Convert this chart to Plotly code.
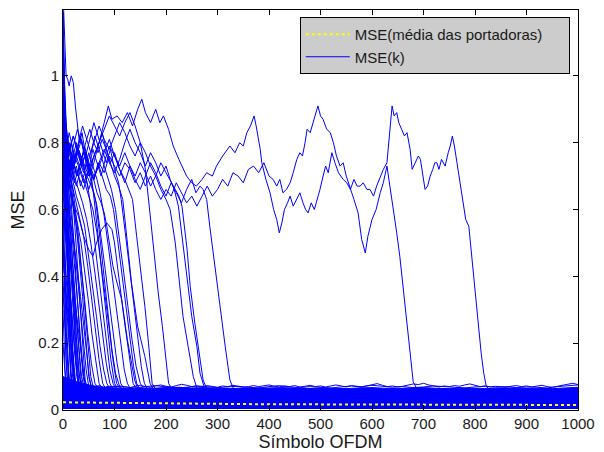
import plotly.graph_objects as go

# ---------------- data ----------------
# two carriers that converge late
carrier_a_x = [0, 5, 10, 20, 30, 40, 50, 60, 70, 80, 90, 100, 110, 120, 130, 140, 150, 160, 170, 180, 190, 200,
               210, 220, 230, 240, 250, 260, 270, 280, 290, 300, 310, 320, 330, 340, 350, 360, 370, 380, 390, 400,
               408, 415, 421, 427, 434, 441, 447, 454, 460, 465, 470, 474, 480, 486, 490, 495, 500, 505, 512, 519,
               525, 531, 538, 544, 550, 557, 565, 573, 580, 587, 592, 600, 608, 616, 622, 629, 635, 642, 648, 654,
               659, 665, 670, 675, 680, 688]
carrier_a_y = [0.90, 0.76, 0.70, 0.74, 0.70, 0.66, 0.72, 0.69, 0.74, 0.71, 0.76, 0.73, 0.70, 0.74, 0.72, 0.68,
               0.71, 0.67, 0.70, 0.66, 0.63, 0.66, 0.64, 0.68, 0.65, 0.62, 0.64, 0.61, 0.64, 0.67, 0.64, 0.66,
               0.69, 0.67, 0.71, 0.70, 0.68, 0.72, 0.73, 0.71, 0.74, 0.70, 0.69, 0.67, 0.69, 0.65, 0.66, 0.68,
               0.71, 0.75, 0.77, 0.76, 0.80, 0.84, 0.83, 0.86, 0.88, 0.91, 0.88, 0.87, 0.84, 0.83, 0.80, 0.76,
               0.73, 0.74, 0.70, 0.67, 0.63, 0.59, 0.51, 0.47, 0.52, 0.57, 0.60, 0.65, 0.68, 0.73, 0.67, 0.60,
               0.53, 0.46, 0.39, 0.30, 0.22, 0.15, 0.085, 0.06]

carrier_b_x = [0, 5, 10, 20, 30, 40, 50, 60, 70, 80, 88, 95, 105, 115, 125, 135, 145, 153, 160, 170, 180, 188,
               195, 205, 214, 225, 240, 250, 259, 270, 279, 290, 298, 310, 324, 334, 343, 350, 357, 364, 371, 375,
               379, 383, 386, 394, 402, 409, 415, 420, 425, 430, 436, 441, 447, 453, 460, 466, 471, 476, 482, 488,
               494, 499, 505, 510, 515, 522, 528, 535, 544, 551, 558, 565, 571, 577, 583, 590, 596, 603, 609, 616,
               622, 629, 633, 636, 639, 643, 648, 652, 658, 663, 668, 674, 678, 684, 690, 694, 699, 703, 708, 713,
               718, 722, 726, 730, 735, 742, 748, 752, 756, 760, 765, 772, 777, 782, 788, 794, 800, 806, 812, 817,
               822, 830]
carrier_b_y = [1.00, 0.85, 0.78, 0.72, 0.78, 0.74, 0.70, 0.76, 0.80, 0.86, 0.91, 0.87, 0.88, 0.86, 0.89, 0.85,
               0.90, 0.93, 0.89, 0.86, 0.90, 0.86, 0.88, 0.84, 0.79, 0.75, 0.70, 0.68, 0.67, 0.69, 0.71, 0.70,
               0.73, 0.76, 0.79, 0.77, 0.80, 0.79, 0.83, 0.85, 0.88, 0.85, 0.82, 0.78, 0.74, 0.69, 0.65, 0.60,
               0.57, 0.53, 0.56, 0.60, 0.62, 0.64, 0.61, 0.63, 0.65, 0.62, 0.60, 0.59, 0.62, 0.60, 0.63, 0.66,
               0.70, 0.73, 0.71, 0.77, 0.74, 0.71, 0.69, 0.68, 0.66, 0.69, 0.67, 0.67, 0.68, 0.66, 0.66, 0.64,
               0.67, 0.70, 0.72, 0.74, 0.80, 0.86, 0.91, 0.88, 0.89, 0.86, 0.84, 0.82, 0.83, 0.78, 0.72, 0.74,
               0.76, 0.75, 0.70, 0.66, 0.67, 0.70, 0.72, 0.74, 0.74, 0.72, 0.75, 0.73, 0.77, 0.79, 0.82, 0.79,
               0.74, 0.67, 0.62, 0.57, 0.55, 0.45, 0.36, 0.26, 0.17, 0.11, 0.07, 0.06]

# carriers converging between symbol ~40 and ~330
mid_x = [
    [0, 6, 12, 20, 28, 36, 44, 52, 60, 68, 76, 84, 92, 100, 110, 120, 130, 140, 150, 160, 170, 180, 190, 200, 210,
     220, 230, 240, 250, 258, 266, 272, 279, 285, 295, 305, 315, 324, 332],
    [0, 5, 12, 20, 30, 40, 50, 60, 70, 80, 90, 100, 110, 120, 130, 140, 150, 160, 170, 180, 190, 200, 210, 218,
     225, 231, 241, 247, 256, 266, 272, 280],
    [0, 6, 14, 22, 30, 40, 50, 60, 70, 80, 90, 100, 110, 120, 130, 140, 150, 160, 170, 180, 190, 200, 208, 216,
     224, 233, 243, 250, 260, 266, 274],
    [0, 5, 10, 18, 26, 34, 42, 50, 60, 70, 80, 90, 100, 110, 120, 130, 140, 150, 160, 170, 180, 190, 200, 208,
     218, 227, 233, 243, 253, 260],
    [0, 6, 12, 20, 30, 40, 50, 60, 70, 80, 90, 100, 110, 120, 130, 140, 150, 160, 169, 176, 185, 193, 199, 205, 212],
    [0, 5, 10, 18, 26, 34, 42, 50, 58, 66, 74, 82, 90, 100, 110, 120, 128, 135, 143, 151, 159, 166, 173, 180],
    [0, 5, 12, 20, 28, 36, 44, 52, 60, 68, 76, 84, 92, 100, 108, 116, 123, 133, 145, 159, 169, 176],
    [0, 5, 12, 20, 28, 36, 44, 52, 60, 68, 76, 84, 92, 100, 108, 113, 121, 129, 137, 145, 152, 158, 165],
    [0, 6, 12, 20, 28, 36, 44, 52, 60, 68, 76, 84, 92, 98, 106, 114, 122, 130, 137, 143, 150],
    [0, 5, 10, 20, 30, 40, 50, 58, 65, 75, 85, 95, 100, 108, 118, 128, 136, 144],
    [0, 5, 10, 18, 26, 34, 42, 50, 58, 66, 74, 80, 85, 97, 105, 114, 125, 132, 139, 146],
    [0, 5, 10, 18, 26, 34, 42, 50, 58, 66, 72, 80, 88, 96, 104, 112, 119, 125, 132],
    [0, 6, 12, 20, 28, 36, 44, 52, 60, 66, 74, 82, 90, 98, 105, 112, 120],
    [0, 5, 10, 18, 26, 34, 42, 50, 58, 66, 74, 82, 90, 97, 104, 112],
    [0, 4, 8, 14, 20, 28, 36, 44, 50, 57, 64, 71, 78, 85, 91, 97, 104],
    [0, 5, 10, 16, 22, 30, 38, 46, 54, 62, 70, 77, 84, 91, 98],
    [0, 4, 8, 14, 20, 26, 34, 42, 50, 58, 65, 72, 79, 85, 92],
    [0, 4, 8, 14, 20, 26, 32, 40, 48, 56, 63, 70, 77, 84],
    [0, 5, 10, 16, 22, 28, 35, 42, 49, 56, 63, 70, 77],
    [0, 4, 8, 13, 18, 24, 30, 36, 42, 48, 55, 62, 70],
    [0, 4, 8, 12, 17, 22, 28, 34, 40, 46, 51, 55, 62],
    [0, 3, 7, 11, 15, 20, 25, 30, 35, 40, 45, 50, 57],
    [0, 4, 8, 12, 16, 21, 26, 31, 36, 41, 45, 52],
    [0, 3, 6, 9, 12, 16, 20, 24, 28, 32, 37, 42, 48, 55, 62, 70, 78, 86, 93, 100, 107],
    [0, 5, 10, 16, 22, 28, 34, 40, 46, 52, 58, 64, 70, 76, 82, 88, 95, 102, 110, 118],
    [0, 6, 12, 18, 24, 30, 38, 46, 54, 62, 70, 78, 86, 94, 102, 110, 118, 126, 134, 142, 150, 158],
]
mid_y = [
    [0.88, 0.76, 0.80, 0.72, 0.77, 0.81, 0.75, 0.70, 0.74, 0.79, 0.83, 0.78, 0.74, 0.77, 0.72, 0.68, 0.73, 0.69,
     0.66, 0.70, 0.74, 0.71, 0.67, 0.64, 0.68, 0.65, 0.62, 0.66, 0.69, 0.65, 0.67, 0.66, 0.63, 0.55, 0.43, 0.30,
     0.19, 0.09, 0.06],
    [1.02, 0.86, 0.78, 0.82, 0.76, 0.71, 0.75, 0.80, 0.85, 0.81, 0.78, 0.82, 0.86, 0.83, 0.79, 0.76, 0.80, 0.77,
     0.73, 0.70, 0.74, 0.71, 0.68, 0.66, 0.64, 0.61, 0.48, 0.37, 0.26, 0.16, 0.09, 0.06],
    [0.80, 0.70, 0.75, 0.68, 0.72, 0.77, 0.73, 0.69, 0.74, 0.78, 0.74, 0.71, 0.75, 0.80, 0.84, 0.80, 0.77, 0.73,
     0.77, 0.74, 0.70, 0.73, 0.69, 0.66, 0.61, 0.49, 0.37, 0.28, 0.19, 0.11, 0.07],
    [0.92, 0.80, 0.72, 0.76, 0.70, 0.74, 0.79, 0.74, 0.70, 0.73, 0.77, 0.81, 0.76, 0.73, 0.77, 0.73, 0.70, 0.74,
     0.71, 0.67, 0.70, 0.66, 0.63, 0.60, 0.50, 0.37, 0.28, 0.19, 0.10, 0.065],
    [0.75, 0.68, 0.72, 0.77, 0.73, 0.68, 0.72, 0.76, 0.80, 0.84, 0.88, 0.85, 0.82, 0.86, 0.89, 0.85, 0.80, 0.72,
     0.59, 0.47, 0.35, 0.25, 0.16, 0.08, 0.06],
    [0.68, 0.62, 0.66, 0.71, 0.67, 0.72, 0.76, 0.72, 0.78, 0.74, 0.70, 0.75, 0.79, 0.76, 0.72, 0.69, 0.66, 0.63,
     0.52, 0.42, 0.31, 0.20, 0.08, 0.06],
    [0.86, 0.75, 0.70, 0.74, 0.79, 0.75, 0.80, 0.84, 0.80, 0.77, 0.81, 0.78, 0.74, 0.70, 0.67, 0.63, 0.53, 0.38,
     0.25, 0.16, 0.08, 0.06],
    [0.95, 0.80, 0.74, 0.79, 0.84, 0.80, 0.76, 0.81, 0.86, 0.82, 0.78, 0.74, 0.78, 0.72, 0.68, 0.63, 0.53, 0.43,
     0.33, 0.22, 0.13, 0.08, 0.06],
    [0.78, 0.72, 0.77, 0.82, 0.78, 0.73, 0.77, 0.72, 0.69, 0.74, 0.70, 0.66, 0.64, 0.60, 0.51, 0.41, 0.31, 0.21,
     0.13, 0.08, 0.06],
    [0.90, 0.78, 0.70, 0.62, 0.58, 0.52, 0.48, 0.46, 0.50, 0.54, 0.56, 0.54, 0.50, 0.40, 0.28, 0.17, 0.08, 0.06],
    [0.82, 0.70, 0.74, 0.69, 0.73, 0.67, 0.71, 0.66, 0.70, 0.65, 0.62, 0.59, 0.55, 0.43, 0.38, 0.33, 0.21, 0.15,
     0.09, 0.06],
    [0.70, 0.76, 0.71, 0.75, 0.80, 0.76, 0.72, 0.77, 0.73, 0.69, 0.65, 0.58, 0.49, 0.39, 0.29, 0.19, 0.12, 0.08,
     0.06],
    [0.86, 0.74, 0.79, 0.74, 0.70, 0.75, 0.71, 0.68, 0.65, 0.61, 0.52, 0.42, 0.32, 0.22, 0.14, 0.08, 0.06],
    [0.74, 0.80, 0.75, 0.71, 0.76, 0.72, 0.68, 0.64, 0.60, 0.53, 0.44, 0.34, 0.24, 0.15, 0.08, 0.06],
    [1.08, 0.90, 0.82, 0.77, 0.73, 0.78, 0.74, 0.70, 0.65, 0.57, 0.47, 0.38, 0.28, 0.19, 0.12, 0.08, 0.06],
    [0.66, 0.72, 0.68, 0.74, 0.70, 0.66, 0.62, 0.57, 0.50, 0.41, 0.31, 0.22, 0.14, 0.08, 0.06],
    [0.80, 0.73, 0.77, 0.72, 0.68, 0.64, 0.60, 0.55, 0.46, 0.37, 0.28, 0.19, 0.12, 0.08, 0.06],
    [0.93, 0.82, 0.74, 0.70, 0.66, 0.62, 0.58, 0.52, 0.43, 0.33, 0.23, 0.15, 0.08, 0.06],
    [0.71, 0.66, 0.70, 0.64, 0.60, 0.56, 0.50, 0.42, 0.33, 0.23, 0.15, 0.08, 0.06],
    [0.84, 0.76, 0.70, 0.66, 0.62, 0.57, 0.50, 0.42, 0.33, 0.23, 0.14, 0.08, 0.06],
    [0.64, 0.60, 0.63, 0.58, 0.54, 0.49, 0.42, 0.34, 0.25, 0.16, 0.10, 0.07, 0.05],
    [0.99, 0.85, 0.72, 0.66, 0.60, 0.53, 0.45, 0.37, 0.28, 0.19, 0.12, 0.07, 0.05],
    [0.58, 0.55, 0.50, 0.46, 0.42, 0.36, 0.29, 0.22, 0.15, 0.10, 0.07, 0.05],
    [1.25, 1.14, 1.00, 0.99, 0.97, 1.00, 0.98, 0.91, 0.86, 0.80, 0.83, 0.78, 0.74, 0.70, 0.61, 0.49, 0.37, 0.25,
     0.15, 0.08, 0.06],
    [0.77, 0.82, 0.76, 0.80, 0.74, 0.78, 0.82, 0.77, 0.73, 0.70, 0.66, 0.62, 0.54, 0.45, 0.36, 0.27, 0.18, 0.11,
     0.07, 0.06],
    [0.72, 0.78, 0.83, 0.79, 0.75, 0.80, 0.85, 0.81, 0.77, 0.82, 0.78, 0.74, 0.70, 0.66, 0.60, 0.51, 0.41, 0.31,
     0.21, 0.13, 0.08, 0.06],
]

# carriers converging within the first few dozen symbols
fast_x = [
    [0, 3, 6, 9, 12], [0, 4, 8, 12, 16], [0, 3, 7, 11, 15, 19], [0, 5, 10, 15, 20, 25],
    [0, 4, 9, 14, 19, 24, 29], [0, 5, 11, 17, 23, 29, 34], [0, 6, 12, 18, 24, 30, 36],
    [0, 4, 8, 14, 20, 26, 32, 38], [0, 3, 6, 9, 13], [0, 2, 5, 8, 11, 14], [0, 3, 6, 10, 14, 18, 22],
    [0, 4, 8, 12, 17, 22, 27, 32], [0, 3, 7, 12, 17, 22, 27, 33, 39, 44], [0, 2, 4, 7, 10],
    [0, 5, 10, 16, 22, 28, 34, 40, 46], [0, 3, 6, 9, 12, 15, 18], [0, 4, 8, 13, 18, 23, 28, 33, 38, 43, 48],
    [0, 5, 10, 15, 20, 26, 32, 38, 44, 50, 56], [0, 2, 5, 8, 11, 15, 19, 23],
    [0, 3, 6, 10, 15, 20, 25, 30, 35, 40], [0, 4, 9, 14, 19, 24, 30, 36, 42, 48, 54, 60],
    [0, 3, 7, 11, 16, 21, 26], [0, 2, 4, 6, 8], [0, 3, 6, 10, 14, 18, 23, 28, 33],
    [0, 2, 4, 7, 10, 13, 17], [0, 3, 6, 10, 14, 19, 24, 29],
    [0, 3, 6, 9, 13, 17, 21, 26], [0, 2, 5, 9, 13, 17, 22, 27, 32], [0, 4, 8, 12, 16, 20, 25, 30, 36, 42],
    [0, 3, 6, 9, 12, 16, 20, 24],
]
fast_y = [
    [0.55, 0.32, 0.16, 0.08, 0.05], [0.75, 0.45, 0.22, 0.09, 0.05], [1.19, 0.85, 0.48, 0.24, 0.10, 0.06],
    [0.92, 0.66, 0.42, 0.22, 0.10, 0.06], [0.84, 0.70, 0.50, 0.32, 0.18, 0.09, 0.06],
    [1.05, 0.80, 0.60, 0.41, 0.24, 0.11, 0.06], [0.70, 0.64, 0.52, 0.38, 0.24, 0.12, 0.07],
    [0.98, 0.86, 0.72, 0.55, 0.38, 0.22, 0.10, 0.06], [0.40, 0.26, 0.15, 0.08, 0.05],
    [0.62, 0.46, 0.30, 0.17, 0.09, 0.05], [0.88, 0.74, 0.55, 0.38, 0.22, 0.11, 0.06],
    [0.76, 0.70, 0.62, 0.50, 0.36, 0.22, 0.11, 0.06],
    [1.10, 0.95, 0.82, 0.72, 0.60, 0.47, 0.34, 0.21, 0.10, 0.06], [0.30, 0.20, 0.12, 0.07, 0.05],
    [0.66, 0.70, 0.63, 0.55, 0.44, 0.33, 0.21, 0.10, 0.06], [1.19, 0.98, 0.70, 0.45, 0.25, 0.11, 0.06],
    [0.95, 0.82, 0.78, 0.72, 0.65, 0.55, 0.44, 0.32, 0.20, 0.09, 0.06],
    [0.72, 0.78, 0.70, 0.66, 0.62, 0.55, 0.45, 0.34, 0.22, 0.10, 0.06],
    [0.50, 0.42, 0.36, 0.28, 0.20, 0.12, 0.07, 0.05],
    [0.85, 0.72, 0.66, 0.60, 0.52, 0.42, 0.31, 0.19, 0.09, 0.06],
    [0.90, 0.80, 0.74, 0.70, 0.66, 0.60, 0.52, 0.42, 0.31, 0.20, 0.10, 0.06],
    [0.45, 0.40, 0.33, 0.25, 0.16, 0.09, 0.05], [0.20, 0.14, 0.09, 0.06, 0.05],
    [0.60, 0.55, 0.50, 0.42, 0.35, 0.27, 0.18, 0.10, 0.06],
    [0.35, 0.30, 0.24, 0.18, 0.12, 0.08, 0.05], [0.52, 0.47, 0.40, 0.31, 0.22, 0.14, 0.08, 0.05],
    [0.68, 0.60, 0.52, 0.42, 0.31, 0.20, 0.11, 0.06], [0.80, 0.66, 0.55, 0.47, 0.38, 0.28, 0.18, 0.10, 0.06],
    [0.58, 0.62, 0.57, 0.50, 0.44, 0.37, 0.28, 0.19, 0.10, 0.06], [1.19, 0.90, 0.74, 0.58, 0.42, 0.27, 0.13, 0.06],
]

# dense floor of converged carriers
band_x = [0, 25, 50, 75, 100, 125, 150, 175, 200, 225, 250, 275, 300, 325, 350, 375, 400, 425, 450, 475, 500,
          525, 550, 575, 600, 625, 650, 675, 700, 725, 750, 775, 800, 825, 850, 875, 900, 925, 950, 975, 1000]
band_top = [0.10, 0.085, 0.075, 0.068, 0.066, 0.064, 0.066, 0.065, 0.067, 0.068, 0.066, 0.067, 0.065, 0.064,
            0.066, 0.065, 0.066, 0.067, 0.065, 0.064, 0.066, 0.065, 0.064, 0.066, 0.067, 0.065, 0.064, 0.066,
            0.067, 0.065, 0.064, 0.066, 0.065, 0.064, 0.066, 0.065, 0.064, 0.065, 0.064, 0.066, 0.068]
band_bottom = [0.003] * len(band_x)

wisp1_x = [0, 10, 20, 30, 40, 50, 60, 70, 80, 90, 100, 110, 120, 130, 140, 150, 160, 170, 180, 190, 200, 210,
           220, 230, 240, 250, 260, 270, 280, 290, 300, 310, 320, 330, 340, 350, 360, 370, 380, 390, 400, 410,
           420, 430, 440, 450, 460, 470, 480, 490, 500, 510, 520, 530, 540, 550, 560, 570, 580, 590, 600, 610,
           620, 630, 640, 650, 660, 670, 680, 690, 700, 710, 720, 730, 740, 750, 760, 770, 780, 790, 800, 810,
           820, 830, 840, 850, 860, 870, 880, 890, 900, 910, 920, 930, 940, 950, 960, 970, 980, 990, 1000]
wisp1_y = [0.09, 0.085, 0.08, 0.078, 0.074, 0.072, 0.07, 0.073, 0.068, 0.071,
           0.069, 0.072, 0.07, 0.067, 0.071, 0.074, 0.07, 0.068, 0.072, 0.075,
           0.071, 0.069, 0.073, 0.077, 0.074, 0.07, 0.072, 0.069, 0.073, 0.071,
           0.068, 0.072, 0.07, 0.074, 0.071, 0.068, 0.07, 0.073, 0.07, 0.072,
           0.075, 0.071, 0.069, 0.072, 0.07, 0.073, 0.069, 0.071, 0.074, 0.07,
           0.072, 0.069, 0.071, 0.075, 0.072, 0.069, 0.073, 0.07, 0.068, 0.072,
           0.076, 0.079, 0.074, 0.07, 0.072, 0.069, 0.071, 0.074, 0.078, 0.076,
           0.08, 0.075, 0.071, 0.069, 0.072, 0.07, 0.073, 0.071, 0.075, 0.078,
           0.074, 0.07, 0.072, 0.069, 0.071, 0.07, 0.068, 0.071, 0.073, 0.07,
           0.072, 0.069, 0.071, 0.074, 0.07, 0.068, 0.071, 0.073, 0.077, 0.08, 0.076]
wisp2_x = [0, 20, 40, 60, 80, 100, 120, 140, 160, 180, 200, 220, 240, 260, 280, 300, 320, 340, 360, 380, 400,
           420, 440, 460, 480, 500, 520, 540, 560, 580, 600, 620, 640, 660, 680, 700, 720, 740, 760, 780, 800,
           820, 840, 860, 880, 900, 920, 940, 960, 980, 1000]
wisp2_y = [0.08, 0.072, 0.066, 0.07, 0.067, 0.071, 0.068, 0.066, 0.07, 0.073,
           0.069, 0.066, 0.068, 0.072, 0.07, 0.067, 0.069, 0.071, 0.068, 0.066,
           0.07, 0.073, 0.069, 0.067, 0.07, 0.068, 0.066, 0.069, 0.072, 0.07,
           0.074, 0.071, 0.068, 0.07, 0.067, 0.069, 0.072, 0.07, 0.068, 0.066,
           0.069, 0.071, 0.068, 0.07, 0.067, 0.069, 0.068, 0.066, 0.07, 0.072, 0.075]

# average MSE over carriers
avg_x = [0, 50, 100, 150, 200, 250, 300, 350, 400, 450, 500, 550, 600, 650, 700, 750, 800, 850, 900, 950, 1000]
avg_y = [0.023, 0.022, 0.021, 0.020, 0.020, 0.019, 0.018, 0.018, 0.017, 0.017, 0.017, 0.016, 0.016, 0.016,
         0.016, 0.016, 0.016, 0.016, 0.015, 0.015, 0.015]

x_ticks = [0, 100, 200, 300, 400, 500, 600, 700, 800, 900, 1000]
y_ticks = [0, 0.2, 0.4, 0.6, 0.8, 1]
y_tick_text = ["0", "0.2", "0.4", "0.6", "0.8", "1"]

# ---------------- figure ----------------
BLUE = "#0000ff"
FONT = "Liberation Sans, Arial, sans-serif"
FS = 15
NBSP = "\u00a0"

for xs, ys in [(carrier_a_x, carrier_a_y), (carrier_b_x, carrier_b_y), (wisp1_x, wisp1_y), (wisp2_x, wisp2_y),
               (avg_x, avg_y), (band_x, band_top)]:
    assert len(xs) == len(ys)
for xs, ys in zip(mid_x + fast_x, mid_y + fast_y):
    assert len(xs) == len(ys), (xs, ys)

fig = go.Figure()

# floor band
fig.add_trace(go.Scatter(x=band_x, y=band_bottom, mode="lines", line=dict(width=0, color=BLUE),
                         showlegend=False, hoverinfo="skip"))
fig.add_trace(go.Scatter(x=band_x, y=band_top, mode="lines", line=dict(width=1, color=BLUE),
                         fill="tonexty", fillcolor=BLUE, showlegend=False, hoverinfo="skip"))
for xs, ys in [(wisp1_x, wisp1_y), (wisp2_x, wisp2_y)]:
    fig.add_trace(go.Scatter(x=xs, y=ys, mode="lines", line=dict(width=1, color=BLUE), showlegend=False))

for xs, ys in zip(fast_x, fast_y):
    fig.add_trace(go.Scatter(x=xs, y=ys, mode="lines", line=dict(width=1, color=BLUE), showlegend=False))
for xs, ys in zip(mid_x, mid_y):
    fig.add_trace(go.Scatter(x=xs, y=ys, mode="lines", line=dict(width=1, color=BLUE), showlegend=False))

fig.add_trace(go.Scatter(x=carrier_b_x, y=carrier_b_y, mode="lines", line=dict(width=1, color=BLUE),
                         showlegend=False))
fig.add_trace(go.Scatter(x=carrier_a_x, y=carrier_a_y, mode="lines", line=dict(width=1, color=BLUE),
                         name="MSE(k)", legendrank=2))

fig.add_trace(go.Scatter(x=avg_x, y=avg_y, mode="lines", line=dict(width=2, color="#ffff00", dash="dot"),
                         name="MSE(média das portadoras)" + NBSP * 5, legendrank=1))

axis_common = dict(showgrid=False, zeroline=False, showline=True, linecolor="black", linewidth=1,
                   mirror="ticks", ticks="inside", ticklen=5, tickcolor="black", automargin=False,
                   tickfont=dict(family=FONT, size=FS, color="#1a1a1a"))

fig.update_layout(
    width=604, height=452,
    margin=dict(l=63, r=26, t=10, b=42, autoexpand=False),
    paper_bgcolor="white", plot_bgcolor="white",
    font=dict(family=FONT, size=FS, color="#1a1a1a"),
    xaxis=dict(range=[0, 1000], tickvals=x_ticks, title=dict(text="Símbolo OFDM", standoff=6), **axis_common),
    yaxis=dict(range=[0, 1.197], tickvals=y_ticks, ticktext=y_tick_text, title=dict(text="MSE", standoff=8),
               **axis_common),
    legend=dict(x=0.984, y=0.9825, xanchor="right", yanchor="top", bgcolor="#cccccc", bordercolor="black",
                borderwidth=1, font=dict(family=FONT, size=FS, color="#1a1a1a"), tracegroupgap=0,
                traceorder="normal", itemwidth=44),
    showlegend=True,
)

fig.write_html("out.html", config={"displayModeBar": False},
               post_script="document.body.style.margin='0';document.body.style.padding='0';")
